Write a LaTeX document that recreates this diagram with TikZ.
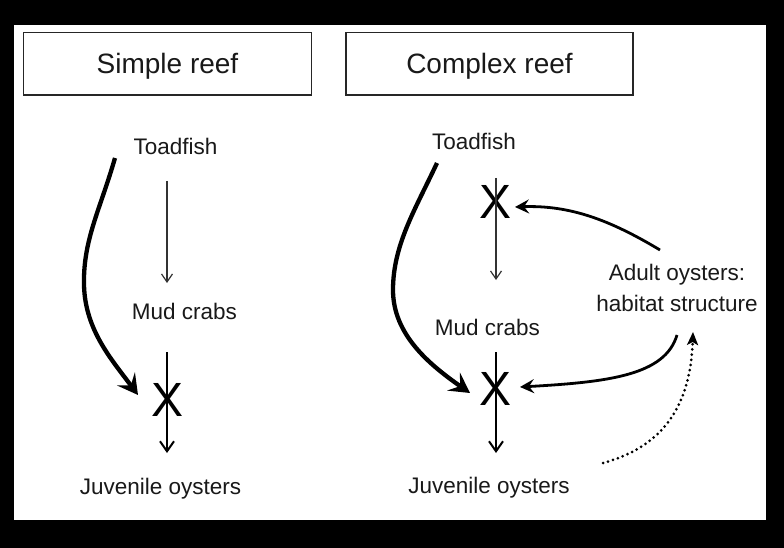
\documentclass[tikz,border=0pt]{standalone}
\usepackage{fontspec}
\setmainfont{Liberation Sans}
\usetikzlibrary{arrows.meta}
\tikzset{
  lbl/.style={font=\fontsize{22.5}{31}\selectfont, inner sep=0pt, anchor=base, text=black!90},
  titlebox/.style={draw=black!85, line width=1.3pt, minimum width=288pt, minimum height=62.7pt,
    font=\fontsize{28}{34}\selectfont, text height=24pt, text depth=3.4pt, inner sep=0pt, text=black!90},
  xmark/.style={font=\fontsize{48}{48}\selectfont, inner sep=0pt},
  thinarr/.style={draw=black!80, line width=1.2pt, -{Straight Barb[length=8pt,width=11pt]}},
  medarr/.style={draw=black, line width=2pt, -{Straight Barb[length=10pt,width=14pt]}},
  thickarr/.style={draw=black, line width=4.3pt, -{Stealth[length=20pt,width=22pt,inset=8pt]}},
  adarr/.style={draw=black, line width=2.8pt, -{Stealth[length=14pt,width=14pt,inset=5pt]}},
  dotarr/.style={draw=black, line width=3pt, dash pattern=on 0pt off 5.2pt, line cap=round,
    -{Stealth[length=13pt,width=11pt,inset=3pt]}}
}
\begin{document}
\begin{tikzpicture}[x=1pt,y=-1pt]
\useasboundingbox (0,0) rectangle (784,548);
\fill[black] (0,0) rectangle (784,548);
\fill[white] (14,25) rectangle (766,520);

% titles
\node[titlebox] (tL) at (167.5,63.7) {Simple reef};
\node[titlebox, minimum width=287pt] (tR) at (489.5,63.7) {Complex reef};

% left panel
\node[lbl] (tfL) at (175.5,155) {Toadfish};
\node[lbl] (mcL) at (184.5,319) {Mud crabs};
\node[lbl] (joL) at (160.5,494) {Juvenile oysters};
\node[xmark] (xL) at (167.5,400) {X};

\coordinate (aLs) at (167,181);
\coordinate (aLe) at (167,283);
\coordinate (bLs) at (167,352);
\coordinate (bLe) at (167,453);
\coordinate (cLs) at (115,158);
\coordinate (cLm) at (84,285);
\coordinate (cLe) at (138,395);

\draw[thinarr] (aLs) -- (aLe);
\draw[medarr] (bLs) -- (bLe);
\draw[thickarr] (cLs) .. controls (100,210) and (83,240) .. (cLm)
  .. controls (85,330) and (112,360) .. (cLe);

% right panel
\node[lbl] (tfR) at (474,150) {Toadfish};
\node[lbl] (mcR) at (487.5,335) {Mud crabs};
\node[lbl] (joR) at (489,493) {Juvenile oysters};
\node[font=\fontsize{22.5}{31}\selectfont, inner sep=0pt, align=center, text=black!90] (ad) at (677,287.5)
  {Adult oysters:\\habitat structure};
\node[xmark] (xT) at (496,202) {X};
\node[xmark] (xB) at (496,389) {X};

\coordinate (aRs) at (496,178);
\coordinate (aRe) at (496,280);
\coordinate (bRs) at (496,352);
\coordinate (bRe) at (496,453);
\coordinate (cRs) at (437,163);
\coordinate (cRm) at (393,290);
\coordinate (cRe) at (470,393);
\coordinate (dTs) at (660,250);
\coordinate (dTe) at (515,207);
\coordinate (dBs) at (677,335);
\coordinate (dBe) at (520,387);
\coordinate (eS) at (603,463);
\coordinate (eE) at (693,332);

\draw[thinarr] (aRs) -- (aRe);
\draw[medarr] (bRs) -- (bRe);
\draw[thickarr] (cRs) .. controls (415,210) and (393,245) .. (cRm)
  .. controls (393,335) and (430,365) .. (cRe);
\draw[adarr] (dTs) .. controls (610,220) and (570,205) .. (dTe);
\draw[adarr] (dBs) .. controls (665,375) and (610,382) .. (dBe);
\draw[dotarr] (eS) .. controls (650,450) and (690,420) .. (eE);
\end{tikzpicture}
\end{document}
